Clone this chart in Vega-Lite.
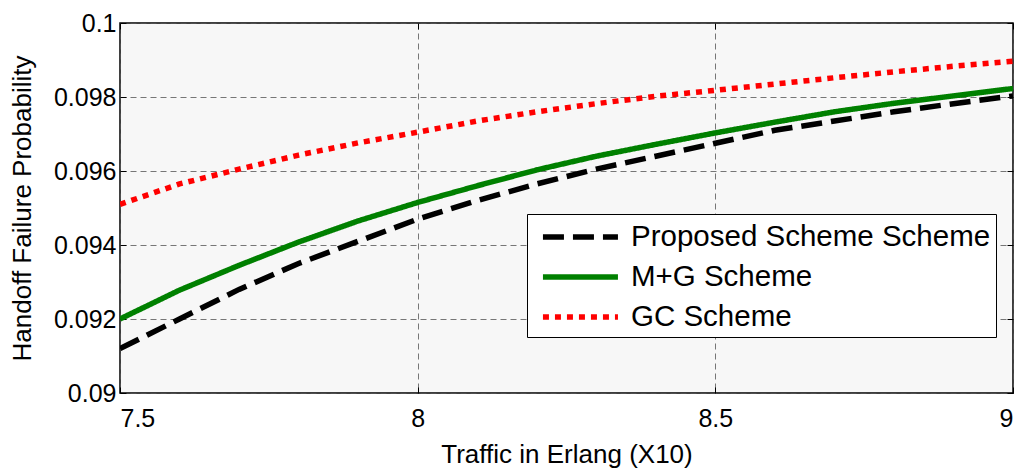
{
  "$schema": "https://vega.github.io/schema/vega-lite/v6.json",
  "width": 893,
  "height": 370,
  "autosize": {"type": "none"},
  "padding": {"left": 120, "top": 23, "right": 9, "bottom": 76},
  "background": "white",
  "config": {
    "font": "Liberation Sans",
    "view": {"fill": "#f7f7f7", "stroke": "black", "strokeWidth": 1.5},
    "axis": {
      "labelFont": "Liberation Sans",
      "titleFont": "Liberation Sans",
      "labelFontSize": 25,
      "titleFontSize": 26,
      "titleFontWeight": "normal",
      "labelColor": "black",
      "titleColor": "black",
      "domain": false,
      "tickColor": "black",
      "tickSize": -6,
      "gridColor": "#555555",
      "gridDash": [6, 4],
      "gridWidth": 1,
      "gridOpacity": 0.8
    },
    "legend": {
      "orient": "none",
      "legendX": 407,
      "legendY": 191,
      "fillColor": "white",
      "strokeColor": "black",
      "padding": 5,
      "symbolType": "M-0.47,0H4.53",
      "symbolSize": 900,
      "symbolStrokeWidth": 5.5,
      "labelFontSize": 29.5,
      "labelFont": "Liberation Sans",
      "labelColor": "black",
      "labelLimit": 500,
      "rowPadding": 7,
      "labelOffset": 63
    }
  },
  "data": {
    "values": [
      {"x": 7.5, "s": "Proposed Scheme Scheme", "y": 0.09120},
      {"x": 7.6, "s": "Proposed Scheme Scheme", "y": 0.09200},
      {"x": 7.7, "s": "Proposed Scheme Scheme", "y": 0.09280},
      {"x": 7.8, "s": "Proposed Scheme Scheme", "y": 0.09350},
      {"x": 7.9, "s": "Proposed Scheme Scheme", "y": 0.09410},
      {"x": 8.0, "s": "Proposed Scheme Scheme", "y": 0.09470},
      {"x": 8.1, "s": "Proposed Scheme Scheme", "y": 0.09520},
      {"x": 8.2, "s": "Proposed Scheme Scheme", "y": 0.09565},
      {"x": 8.3, "s": "Proposed Scheme Scheme", "y": 0.09605},
      {"x": 8.4, "s": "Proposed Scheme Scheme", "y": 0.09640},
      {"x": 8.5, "s": "Proposed Scheme Scheme", "y": 0.09675},
      {"x": 8.6, "s": "Proposed Scheme Scheme", "y": 0.09710},
      {"x": 8.7, "s": "Proposed Scheme Scheme", "y": 0.09735},
      {"x": 8.8, "s": "Proposed Scheme Scheme", "y": 0.09760},
      {"x": 8.9, "s": "Proposed Scheme Scheme", "y": 0.09782},
      {"x": 9.0, "s": "Proposed Scheme Scheme", "y": 0.09803},
      {"x": 7.5, "s": "M+G Scheme", "y": 0.09200},
      {"x": 7.6, "s": "M+G Scheme", "y": 0.09278},
      {"x": 7.7, "s": "M+G Scheme", "y": 0.09345},
      {"x": 7.8, "s": "M+G Scheme", "y": 0.09408},
      {"x": 7.9, "s": "M+G Scheme", "y": 0.09465},
      {"x": 8.0, "s": "M+G Scheme", "y": 0.09515},
      {"x": 8.1, "s": "M+G Scheme", "y": 0.09560},
      {"x": 8.2, "s": "M+G Scheme", "y": 0.09603},
      {"x": 8.3, "s": "M+G Scheme", "y": 0.09640},
      {"x": 8.4, "s": "M+G Scheme", "y": 0.09672},
      {"x": 8.5, "s": "M+G Scheme", "y": 0.09703},
      {"x": 8.6, "s": "M+G Scheme", "y": 0.09732},
      {"x": 8.7, "s": "M+G Scheme", "y": 0.09760},
      {"x": 8.8, "s": "M+G Scheme", "y": 0.09783},
      {"x": 8.9, "s": "M+G Scheme", "y": 0.09803},
      {"x": 9.0, "s": "M+G Scheme", "y": 0.09823},
      {"x": 7.5, "s": "GC Scheme", "y": 0.09510},
      {"x": 7.6, "s": "GC Scheme", "y": 0.09565},
      {"x": 7.7, "s": "GC Scheme", "y": 0.09605},
      {"x": 7.8, "s": "GC Scheme", "y": 0.09643},
      {"x": 7.9, "s": "GC Scheme", "y": 0.09676},
      {"x": 8.0, "s": "GC Scheme", "y": 0.09705},
      {"x": 8.1, "s": "GC Scheme", "y": 0.09735},
      {"x": 8.2, "s": "GC Scheme", "y": 0.09760},
      {"x": 8.3, "s": "GC Scheme", "y": 0.09782},
      {"x": 8.4, "s": "GC Scheme", "y": 0.09802},
      {"x": 8.5, "s": "GC Scheme", "y": 0.09818},
      {"x": 8.6, "s": "GC Scheme", "y": 0.09835},
      {"x": 8.7, "s": "GC Scheme", "y": 0.09852},
      {"x": 8.8, "s": "GC Scheme", "y": 0.09868},
      {"x": 8.9, "s": "GC Scheme", "y": 0.09883},
      {"x": 9.0, "s": "GC Scheme", "y": 0.09897}
    ]
  },
  "resolve": {"axis": {"x": "independent", "y": "independent"}},
  "layer": [
    {
      "mark": {"type": "line", "strokeWidth": 5.5, "clip": true},
      "encoding": {
        "x": {
          "field": "x", "type": "quantitative",
          "scale": {"domain": [7.5, 9], "nice": false, "zero": false},
          "axis": {"values": [7.5, 8, 8.5, 9], "format": "~g", "title": "Traffic in Erlang (X10)", "titlePadding": 10, "labelPadding": 19}
        },
        "y": {
          "field": "y", "type": "quantitative",
          "scale": {"domain": [0.09, 0.1], "nice": false, "zero": false},
          "axis": {"values": [0.09, 0.092, 0.094, 0.096, 0.098, 0.1], "format": ".3~f", "title": "Handoff Failure Probability", "titlePadding": 18, "labelPadding": 10}
        },
        "color": {
          "field": "s", "type": "nominal",
          "scale": {"domain": ["Proposed Scheme Scheme", "M+G Scheme", "GC Scheme"], "range": ["#000000", "#008000", "#ff0000"]},
          "legend": {"title": null}
        },
        "strokeDash": {
          "field": "s", "type": "nominal",
          "scale": {"domain": ["Proposed Scheme Scheme", "M+G Scheme", "GC Scheme"], "range": [[21, 9], [1, 0], [6, 6]]},
          "legend": {"title": null}
        }
      }
    },
    {
      "mark": {"type": "point", "opacity": 0},
      "encoding": {
        "x": {
          "field": "x", "type": "quantitative",
          "axis": {"orient": "top", "values": [7.5, 8, 8.5, 9], "labels": false, "title": null, "grid": false}
        },
        "y": {
          "field": "y", "type": "quantitative",
          "axis": {"orient": "right", "values": [0.09, 0.092, 0.094, 0.096, 0.098, 0.1], "labels": false, "title": null, "grid": false}
        }
      }
    }
  ]
}
